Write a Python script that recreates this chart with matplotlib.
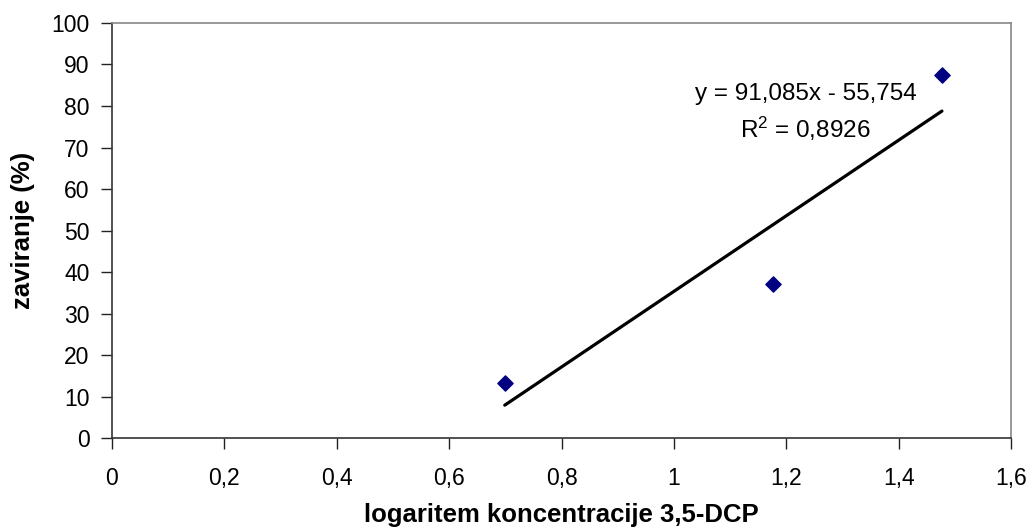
import numpy as np
import matplotlib.pyplot as plt

plt.rcParams['font.family'] = ['Liberation Sans', 'DejaVu Sans']

# measured points: log concentration vs. inhibition
log_conc = [0.699, 1.176, 1.477]
inhibition = [13.3, 37.2, 87.5]

# linear trendline coefficients
slope = 91.085
intercept = -55.754
r_squared = 0.8926

x_ticks = [0, 0.2, 0.4, 0.6, 0.8, 1, 1.2, 1.4, 1.6]
y_ticks = list(range(0, 101, 10))

fig = plt.figure(figsize=(10.30, 5.31), dpi=100)
ax = fig.add_axes([0.1087, 0.1751, 0.8729, 0.7816])

xs = np.array([min(log_conc), max(log_conc)])
ax.plot(xs, slope * xs + intercept, color='black', lw=2.3, solid_capstyle='round', zorder=2)
ax.scatter(log_conc, inhibition, marker='D', s=60, color='#000080', zorder=3)

ax.set_xlim(0, 1.6)
ax.set_ylim(0, 100)
ax.set_xticks(x_ticks)
ax.set_yticks(y_ticks)
ax.set_xticklabels([('%g' % t).replace('.', ',') for t in x_ticks])
ax.tick_params(axis='both', direction='out', length=8, width=1, labelsize=16.5, colors='#222222')
ax.tick_params(axis='x', pad=13)
ax.tick_params(axis='y', pad=8)
for lbl in ax.get_xticklabels() + ax.get_yticklabels():
    lbl.set_color('black')

for side in ('left', 'bottom'):
    ax.spines[side].set_color('#333333')
    ax.spines[side].set_linewidth(1.2)
for side in ('top', 'right'):
    ax.spines[side].set_color('#888888')
    ax.spines[side].set_linewidth(1.2)

eq = 'y = %sx - %s' % (('%.3f' % slope).replace('.', ','), ('%.3f' % -intercept).replace('.', ','))
r2 = '$\\mathregular{R^2}$ = ' + ('%.4f' % r_squared).replace('.', ',')
ax.text(1.234, 82.8, eq, ha='center', va='center', fontsize=17.5)
ax.text(1.234, 74.6, r2, ha='center', va='center', fontsize=17.5)

ax.set_xlabel('logaritem koncentracije 3,5-DCP', fontsize=18.5, fontweight='bold', labelpad=9)
ax.set_ylabel('zaviranje (%)', fontsize=18.5, fontweight='bold', labelpad=12)

fig.savefig('out.png', dpi=100)
